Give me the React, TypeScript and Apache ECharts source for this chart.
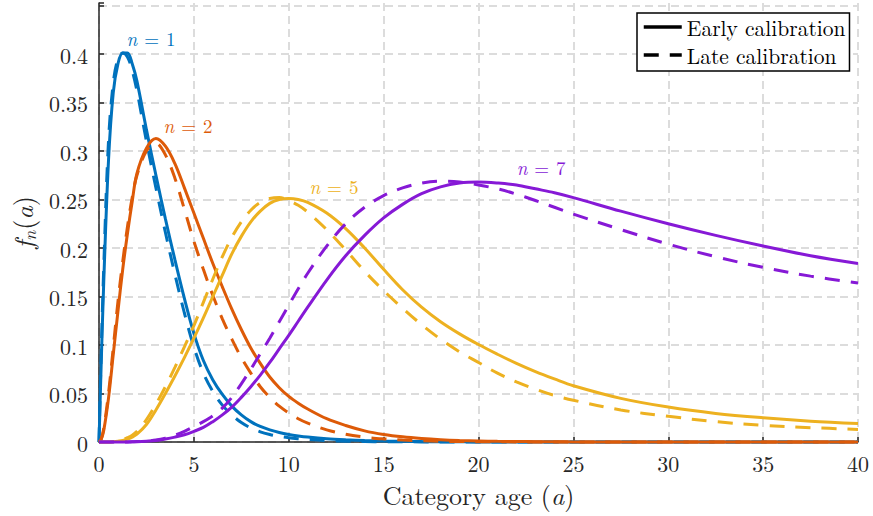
import React, { useEffect, useRef } from 'react';
import * as echarts from 'echarts';

// Age grid (x values) shared by every curve
const ages = [0, 0.1, 0.25, 0.5, 0.75, 1, 1.25, 1.5, 1.75, 2, 2.5, 3, 3.5, 4, 4.5, 5, 5.5, 6, 6.5, 7, 7.5, 8, 8.5, 9, 9.5, 10, 10.5, 11, 12, 13, 14, 15, 16, 17, 18, 19, 20, 21, 22, 23, 24, 25, 27.5, 30, 32.5, 35, 37.5, 40];

// n = 1
const blueEarly = [0, 0.07, 0.165, 0.29, 0.36, 0.39, 0.401, 0.401, 0.39, 0.372, 0.322, 0.275, 0.23, 0.188, 0.148, 0.112, 0.084, 0.064, 0.049, 0.037, 0.028, 0.021, 0.016, 0.0125, 0.0098, 0.0078, 0.0063, 0.0051, 0.0034, 0.0023, 0.0015, 0.001, 0.0007, 0.0004, 0.0003, 0.0002, 0.0001, 0.0001, 0, 0, 0, 0, 0, 0, 0, 0, 0, 0];
const blueLate = [0, 0.08, 0.18, 0.31, 0.37, 0.395, 0.401, 0.397, 0.383, 0.362, 0.31, 0.262, 0.216, 0.173, 0.133, 0.098, 0.071, 0.052, 0.038, 0.028, 0.02, 0.0145, 0.0105, 0.0078, 0.0058, 0.0044, 0.0034, 0.0026, 0.0015, 0.0009, 0.0005, 0.0003, 0.0002, 0.0001, 0, 0, 0, 0, 0, 0, 0, 0, 0, 0, 0, 0, 0, 0];
// n = 2
const orangeEarly = [0, 0.002, 0.012, 0.045, 0.09, 0.135, 0.178, 0.215, 0.248, 0.277, 0.303, 0.313, 0.305, 0.287, 0.262, 0.236, 0.21, 0.184, 0.16, 0.137, 0.116, 0.097, 0.081, 0.067, 0.056, 0.047, 0.04, 0.034, 0.024, 0.017, 0.0115, 0.0078, 0.0053, 0.0036, 0.0024, 0.0016, 0.0011, 0.0007, 0.0005, 0.0003, 0.0002, 0.0001, 0, 0, 0, 0, 0, 0];
const orangeLate = [0, 0.002, 0.014, 0.05, 0.097, 0.145, 0.186, 0.222, 0.252, 0.275, 0.3, 0.308, 0.296, 0.272, 0.24, 0.207, 0.178, 0.151, 0.127, 0.106, 0.087, 0.071, 0.057, 0.046, 0.037, 0.03, 0.024, 0.0195, 0.0125, 0.008, 0.005, 0.0032, 0.002, 0.0013, 0.0008, 0.0005, 0.0003, 0.0002, 0.0001, 0, 0, 0, 0, 0, 0, 0, 0, 0];
// n = 5
const yellowEarly = [0, 0, 0, 0, 0.0003, 0.0008, 0.0015, 0.003, 0.005, 0.008, 0.018, 0.033, 0.05, 0.068, 0.087, 0.107, 0.128, 0.15, 0.172, 0.194, 0.212, 0.227, 0.238, 0.246, 0.25, 0.251, 0.25, 0.247, 0.236, 0.22, 0.2, 0.178, 0.157, 0.139, 0.124, 0.1115, 0.1005, 0.0905, 0.081, 0.0725, 0.065, 0.058, 0.045, 0.036, 0.0295, 0.025, 0.0215, 0.019];
const yellowLate = [0, 0, 0, 0, 0.0005, 0.0012, 0.0025, 0.0045, 0.007, 0.011, 0.023, 0.039, 0.057, 0.077, 0.098, 0.12, 0.144, 0.168, 0.191, 0.211, 0.227, 0.239, 0.247, 0.251, 0.252, 0.249, 0.244, 0.237, 0.219, 0.198, 0.176, 0.156, 0.138, 0.121, 0.106, 0.093, 0.082, 0.071, 0.062, 0.0545, 0.048, 0.043, 0.033, 0.0265, 0.021, 0.0172, 0.0148, 0.013];
// n = 7
const purpleEarly = [0, 0, 0, 0, 0, 0, 0, 0.0001, 0.0002, 0.0003, 0.0008, 0.0015, 0.003, 0.005, 0.0075, 0.011, 0.015, 0.021, 0.028, 0.036, 0.046, 0.057, 0.069, 0.082, 0.096, 0.11, 0.1245, 0.139, 0.167, 0.192, 0.213, 0.231, 0.245, 0.256, 0.263, 0.267, 0.268, 0.267, 0.265, 0.261, 0.257, 0.252, 0.238, 0.225, 0.213, 0.202, 0.192, 0.184];
const purpleLate = [0, 0, 0, 0, 0, 0, 0, 0, 0.0002, 0.0004, 0.001, 0.002, 0.004, 0.007, 0.011, 0.016, 0.021, 0.027, 0.035, 0.046, 0.06, 0.075, 0.091, 0.107, 0.124, 0.141, 0.158, 0.174, 0.202, 0.225, 0.242, 0.254, 0.262, 0.267, 0.269, 0.268, 0.265, 0.261, 0.2555, 0.249, 0.242, 0.235, 0.219, 0.204, 0.191, 0.18, 0.171, 0.164];

// Curve annotations (n values) and where they sit, in data units
const nValues = ['1', '2', '5', '7'];
const nLabelAge = [2.74, 4.69, 12.38, 23.3];
const nLabelF = [0.4165, 0.3258, 0.2634, 0.2825];

const xTicks = { min: 0, max: 40, interval: 5 };
const yTicks = { min: 0, max: 0.4526, interval: 0.05, lastLabel: 0.4 };

const legendNames = ['Early calibration', 'Late calibration'];

const FONT = 'Latin Modern Roman';
const TEXT = '#262626';
const COLORS = ['#0072BD', '#DD5A08', '#EDB120', '#8619D6'];
const DASH = [15, 11];

function curve(name: string, values: number[], color: string, dashed: boolean, labelIdx: number | null) {
  const s: any = {
    type: 'line',
    name,
    data: ages.map((a, i) => [a, values[i]]),
    symbol: 'none',
    showSymbol: false,
    smooth: 0.35,
    clip: false,
    silent: true,
    lineStyle: { color, width: 3, type: dashed ? DASH : 'solid', cap: 'butt' },
    itemStyle: { color },
  };
  if (labelIdx !== null) {
    s.markPoint = {
      symbol: 'circle',
      symbolSize: 1,
      silent: true,
      itemStyle: { color: 'rgba(0,0,0,0)' },
      label: {
        show: true,
        position: 'inside',
        formatter: '{i|n}{e|=}' + nValues[labelIdx],
        color,
        fontFamily: FONT,
        fontSize: 19,
        rich: {
          i: { fontStyle: 'italic', fontFamily: FONT, fontSize: 19, color },
          e: { fontFamily: FONT, fontSize: 19, color, padding: [0, 7, 0, 7] },
        },
      },
      data: [{ coord: [nLabelAge[labelIdx], nLabelF[labelIdx]] }],
    };
  }
  return s;
}

export default function App() {
  const ref = useRef<HTMLDivElement>(null);
  useEffect(() => {
    if (!ref.current) return;
    const chart = echarts.init(ref.current, null, { renderer: 'svg' });
    const series: any[] = [
      curve('b1', blueEarly, COLORS[0], false, 0),
      curve('b2', blueLate, COLORS[0], true, null),
      curve('o1', orangeEarly, COLORS[1], false, 1),
      curve('o2', orangeLate, COLORS[1], true, null),
      curve('y1', yellowEarly, COLORS[2], false, 2),
      curve('y2', yellowLate, COLORS[2], true, null),
      curve('p1', purpleEarly, COLORS[3], false, 3),
      curve('p2', purpleLate, COLORS[3], true, null),
      {
        type: 'line', name: legendNames[0], data: [], symbol: 'none',
        lineStyle: { color: '#000', width: 3.5, type: 'solid' }, itemStyle: { color: '#000' },
      },
      {
        type: 'line', name: legendNames[1], data: [], symbol: 'none',
        lineStyle: { color: '#000', width: 3.5, type: DASH }, itemStyle: { color: '#000' },
      },
    ];
    chart.setOption({
      animation: false,
      backgroundColor: '#fff',
      grid: { left: 99, right: 15, top: 3, bottom: 74, containLabel: false, outerBoundsMode: 'none' },
      legend: {
        data: legendNames,
        orient: 'vertical',
        left: 637,
        top: 13,
        itemWidth: 38,
        itemHeight: 14,
        itemGap: 6,
        padding: [3, 4, 5, 5],
        borderColor: '#000',
        borderWidth: 1.5,
        backgroundColor: '#fff',
        selectedMode: false,
        lineStyle: { width: 3.5 },
        itemStyle: { color: 'rgba(0,0,0,0)', borderColor: 'rgba(0,0,0,0)', borderWidth: 0, opacity: 0 },
        textStyle: { fontFamily: FONT, fontSize: 21.5, lineHeight: 22, color: '#000' },
      },
      xAxis: {
        type: 'value',
        min: xTicks.min,
        max: xTicks.max,
        interval: xTicks.interval,
        axisLine: { show: true, onZero: false, lineStyle: { color: TEXT, width: 1.5 } },
        axisTick: { show: true, inside: true, length: 5, lineStyle: { color: TEXT, width: 1.5 } },
        axisLabel: { color: TEXT, fontFamily: FONT, fontSize: 22, lineHeight: 22, margin: 9 },
        splitLine: { show: true, lineStyle: { color: '#dcdcdc', width: 2, type: [8, 5] } },
        name: 'Category age ({i|a})',
        nameLocation: 'middle',
        nameGap: 39,
        nameTextStyle: {
          color: TEXT, fontFamily: FONT, fontSize: 26, lineHeight: 26,
          rich: { i: { fontStyle: 'italic', fontFamily: FONT, fontSize: 26, lineHeight: 26, color: TEXT } },
        },
      },
      yAxis: {
        type: 'value',
        min: yTicks.min,
        max: yTicks.max,
        interval: yTicks.interval,
        axisLine: { show: true, onZero: false, lineStyle: { color: TEXT, width: 1.5 } },
        axisTick: { show: true, inside: true, length: 5, lineStyle: { color: TEXT, width: 1.5 } },
        axisLabel: {
          color: TEXT, fontFamily: FONT, fontSize: 22, margin: 11,
          formatter: (v: number) => (v > yTicks.lastLabel + 1e-6 ? '' : String(Number(v.toFixed(2)))),
        },
        splitLine: { show: true, showMaxLine: false, lineStyle: { color: '#dcdcdc', width: 2, type: [8, 5] } },
        name: '{i|f}{s|n}({i|a})',
        nameLocation: 'middle',
        nameGap: 60,
        nameRotate: 90,
        nameTextStyle: {
          color: TEXT, fontFamily: FONT, fontSize: 26,
          rich: {
            i: { fontStyle: 'italic', fontFamily: FONT, fontSize: 26, color: TEXT },
            s: { fontStyle: 'italic', fontFamily: FONT, fontSize: 18, color: TEXT, padding: [13, 1, 0, 0] },
          },
        },
      },
      series,
    });
    return () => chart.dispose();
  }, []);
  return <div ref={ref} style={{ position: 'absolute', left: 0, top: 0, width: 873, height: 516 }} />;
}
